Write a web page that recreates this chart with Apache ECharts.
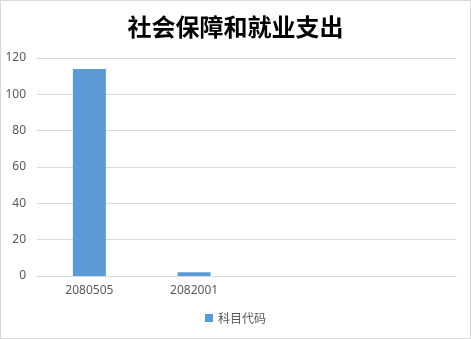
<!DOCTYPE html>
<html>
<head>
<meta charset="utf-8">
<script src="https://cdn.jsdelivr.net/npm/echarts@6/dist/echarts.min.js"></script>
<style>
  html, body { margin: 0; padding: 0; background: #fff; }
  #chart { width: 471px; height: 339px; box-sizing: border-box; border: 1px solid #d9d9d9; }
</style>
</head>
<body>
<div id="chart"></div>
<script>
// Subject codes (two trailing empty slots keep the category width)
const categories = ['2080505', '2082001', '', ''];
const values = [114, 2, null, null];
const yTicks = { min: 0, max: 120, interval: 20 };
const chartTitle = '社会保障和就业支出';
const seriesName = '科目代码';

const chart = echarts.init(document.getElementById('chart'), null, { renderer: 'canvas' });
chart.setOption({
  animation: false,
  title: {
    text: chartTitle,
    left: 'center',
    top: 9,
    textStyle: {
      fontFamily: '"Noto Sans CJK SC", sans-serif',
      fontSize: 24,
      fontWeight: 'bold',
      color: '#000'
    }
  },
  legend: {
    bottom: 9,
    left: 'center',
    itemWidth: 8,
    itemHeight: 8,
    itemGap: 4,
    icon: 'rect',
    textStyle: { color: '#595959', fontSize: 12, fontFamily: '"Noto Sans CJK SC", sans-serif' },
    data: [seriesName]
  },
  grid: { left: 36, right: 14, top: 57, bottom: 62, containLabel: false },
  xAxis: {
    type: 'category',
    data: categories,
    axisLine: { show: true, lineStyle: { color: '#d9d9d9' } },
    axisTick: { show: false },
    axisLabel: { color: '#595959', fontSize: 12, margin: 9, fontFamily: '"Noto Sans", sans-serif' }
  },
  yAxis: {
    type: 'value',
    min: yTicks.min,
    max: yTicks.max,
    interval: yTicks.interval,
    axisLine: { show: false },
    axisTick: { show: false },
    axisLabel: { color: '#595959', fontSize: 12, margin: 11, fontFamily: '"Noto Sans", sans-serif' },
    splitLine: { lineStyle: { color: '#d9d9d9' } }
  },
  series: [{
    name: seriesName,
    type: 'bar',
    data: values,
    barWidth: 33,
    itemStyle: { color: '#5b9bd5' }
  }]
});
</script>
</body>
</html>
